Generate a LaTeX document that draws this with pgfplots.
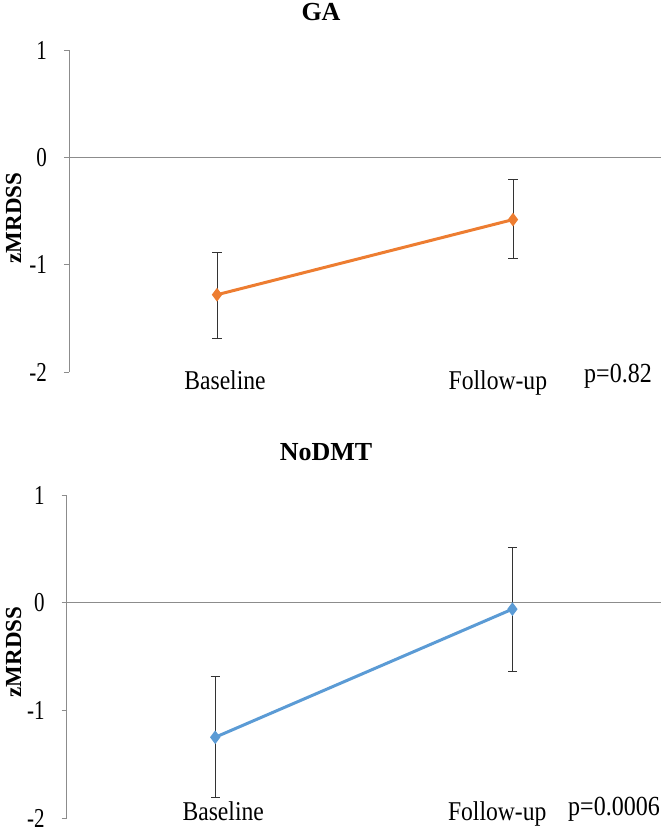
\documentclass[border=0pt]{standalone}
\usepackage{fontspec}
\setmainfont{Liberation Serif}
\usepackage{graphicx}
\usepackage{pgfplots}
\pgfplotsset{compat=1.18}
\definecolor{gaorange}{HTML}{ED7D31}
\definecolor{ndblue}{HTML}{5B9BD5}
\definecolor{axgray}{HTML}{8C8C8C}
\newcommand{\tall}[1]{\scalebox{1}[1.15]{#1}}
\pgfplotsset{panel/.style={
  scale only axis, anchor=south west,
  xmin=-0.5, xmax=1.5, ymin=-2, ymax=1,
  xtick={0.027,0.949}, xticklabels={\tall{Baseline},\tall{Follow-up}},
  ytick={-2,-1,0,1},
  axis y line=left, axis x line=bottom,
  x axis line style={draw=none},
  y axis line style={axgray,-},
  xtick style={draw=none},
  ytick style={axgray, line width=0.4pt},
  tick align=outside, major tick length=2.5pt,
  /pgf/number format/assume math mode=true,
  yticklabel={\scalebox{1}[1.3]{\pgfmathprintnumber{\tick}}},
  yticklabel style={font=\fontsize{10.5}{12}\selectfont, xshift=-5pt},
  xticklabel style={font=\fontsize{11.8}{14}\selectfont},
  clip=false,
}}
\begin{document}
\begin{tikzpicture}
\path[use as bounding box] (0,0) rectangle (330.5pt,-417.5pt);
% Top panel: GA
\begin{axis}[panel, at={(34.5pt,-186pt)}, width=296pt, height=161pt,
  xticklabel style={yshift=6.5pt}]
\addplot[axgray, line width=0.5pt, forget plot] coordinates {(-0.5,0) (1.5,0)};
\addplot[gaorange, line width=1.5pt, mark=diamond*, mark size=2.2pt,
  mark options={fill=gaorange, draw=gaorange},
  error bars/.cd, y dir=both, y explicit,
  error bar style={black!80, line width=0.5pt},
  error mark options={rotate=90, mark size=2.3pt, black!80, line width=0.5pt}]
  coordinates {
  (0,-1.28) += (0,0.39) -= (0,0.41)
  (1,-0.58) += (0,0.37) -= (0,0.36)
  };
\end{axis}
% Bottom panel: NoDMT
\begin{axis}[panel, at={(33.3pt,-409pt)}, width=297.2pt, height=161.5pt,
  xticklabel style={yshift=14pt}]
\addplot[axgray, line width=0.5pt, forget plot] coordinates {(-0.5,0) (1.5,0)};
\addplot[ndblue, line width=1.5pt, mark=diamond*, mark size=2.2pt,
  mark options={fill=ndblue, draw=ndblue},
  error bars/.cd, y dir=both, y explicit,
  error bar style={black!80, line width=0.5pt},
  error mark options={rotate=90, mark size=2.3pt, black!80, line width=0.5pt}]
  coordinates {
  (0,-1.25) += (0,0.56) -= (0,0.56)
  (1,-0.06) += (0,0.575) -= (0,0.58)
  };
\end{axis}
\node[font=\fontsize{13}{15}\selectfont\bfseries, anchor=north, inner sep=0pt] at (160.5pt,-1.5pt) {GA};
\node[font=\fontsize{13}{15}\selectfont\bfseries, anchor=north, inner sep=0pt] at (163pt,-221.5pt) {NoDMT};
\node[font=\fontsize{11.5}{13}\selectfont\bfseries, rotate=90, inner sep=0pt] at (6.75pt,-109pt) {zMRDSS};
\node[font=\fontsize{11.5}{13}\selectfont\bfseries, rotate=90, inner sep=0pt] at (6.75pt,-326pt) {zMRDSS};
\node[font=\fontsize{12}{14}\selectfont] at (309pt,-188pt) {\tall{p=0.82}};
\node[font=\fontsize{12}{14}\selectfont] at (307pt,-404.5pt) {\tall{p=0.0006}};
\end{tikzpicture}
\end{document}
